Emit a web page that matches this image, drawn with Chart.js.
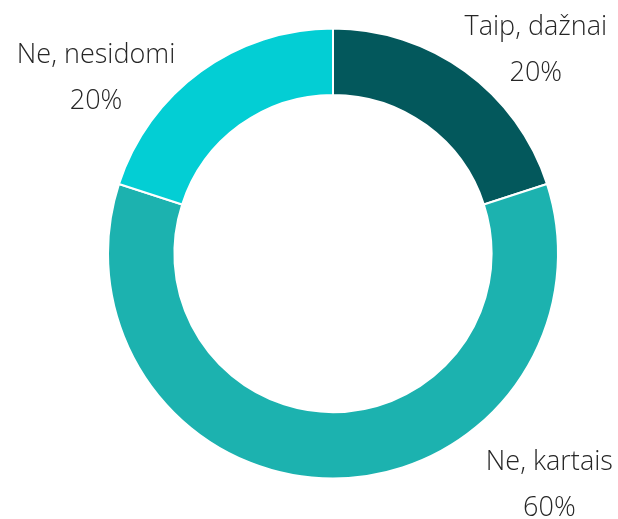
<!DOCTYPE html>
<html lang="lt">
<head>
  <meta charset="UTF-8">
  <title>Doughnut</title>
  <script src="https://cdn.jsdelivr.net/npm/chart.js"></script>
  <style>
    html, body { margin: 0; padding: 0; background: #fff; }
    canvas { display: block; }
  </style>
</head>
<body>
  <canvas id="chart" width="618" height="519"></canvas>
  <script>
    const labels = ['Taip, dažnai', 'Ne, kartais', 'Ne, nesidomi'];
    const values = [20, 60, 20];
    const colors = ['#03585C', '#1CB2AF', '#03CED4'];

    // where each label sits: angle from top (deg, clockwise) and distance as a share of the radius
    const labelPlace = [
      { angle: 45, dist: 1.275 },
      { angle: 137, dist: 1.41 },
      { angle: -53.5, dist: 1.31 }
    ];

    const outsideLabels = {
      id: 'outsideLabels',
      afterDraw(chart) {
        const ctx = chart.ctx;
        const arc = chart.getDatasetMeta(0).data[0];
        const cx = arc.x, cy = arc.y, r = arc.outerRadius;
        const total = values.reduce((a, b) => a + b, 0);
        ctx.save();
        ctx.fillStyle = '#262626';
        ctx.textAlign = 'center';
        ctx.textBaseline = 'middle';
        ctx.font = '300 27px "Open Sans", "Noto Sans", sans-serif';
        labels.forEach((name, i) => {
          const a = labelPlace[i].angle * Math.PI / 180;
          const x = cx + Math.sin(a) * r * labelPlace[i].dist;
          const y = cy - Math.cos(a) * r * labelPlace[i].dist;
          ctx.fillText(name, x, y - 23);
          ctx.fillText(Math.round(values[i] / total * 100) + '%', x, y + 23);
        });
        ctx.restore();
      }
    };

    new Chart(document.getElementById('chart'), {
      type: 'doughnut',
      data: {
        labels: labels,
        datasets: [{
          data: values,
          backgroundColor: colors,
          borderColor: '#ffffff',
          borderWidth: 2,
          hoverOffset: 0
        }]
      },
      options: {
        responsive: false,
        animation: false,
        cutout: '70.5%',
        layout: { padding: { top: 27, bottom: 39, left: 107, right: 59 } },
        plugins: {
          legend: { display: false },
          tooltip: { enabled: false }
        }
      },
      plugins: [outsideLabels]
    });
  </script>
</body>
</html>
